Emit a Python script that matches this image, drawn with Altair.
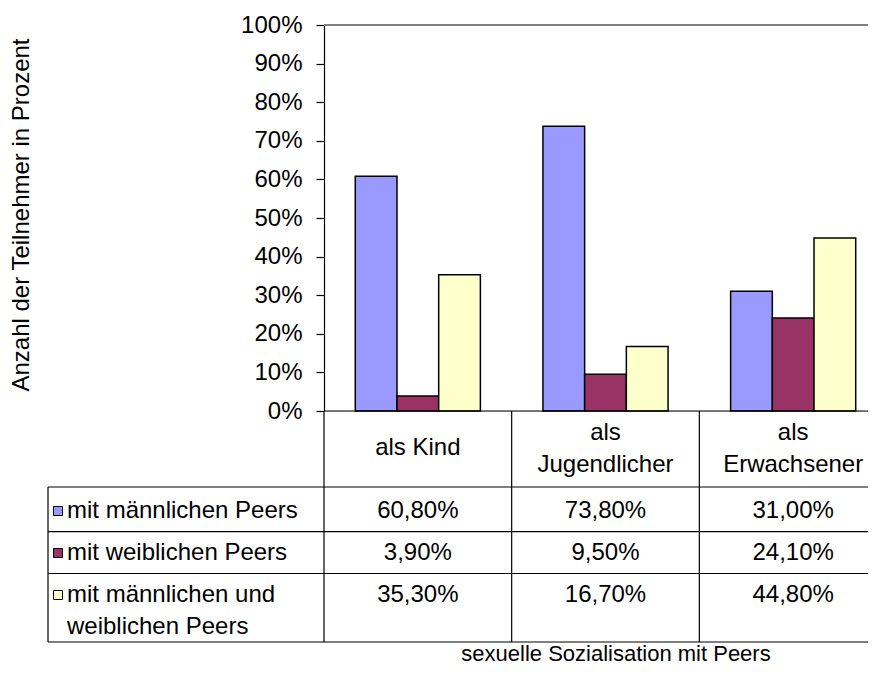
import altair as alt
import pandas as pd

# ---- data ----
categories = ["als Kind", "als Jugendlicher", "als Erwachsener"]
category_labels = ["als Kind", "als\nJugendlicher", "als\nErwachsener"]
series = ["mit männlichen Peers", "mit weiblichen Peers", "mit männlichen und weiblichen Peers"]
series_labels = ["mit männlichen Peers", "mit weiblichen Peers", "mit männlichen und\nweiblichen Peers"]
colors = ["#9999FF", "#993366", "#FFFFCC"]
values_male = [60.8, 73.8, 31.0]
values_female = [3.9, 9.5, 24.1]
values_both = [35.3, 16.7, 44.8]
y_ticks = [0, 10, 20, 30, 40, 50, 60, 70, 80, 90, 100]
y_title = "Anzahl der Teilnehmer in Prozent"
x_title = "sexuelle Sozialisation mit Peers"

rows = []
for s, vals in zip(series, [values_male, values_female, values_both]):
    for c, v in zip(categories, vals):
        rows.append({"cat": c, "series": s, "value": v,
                     "label": f"{v:.2f}".replace(".", ",") + "%"})
df = pd.DataFrame(rows)
cat_df = pd.DataFrame({"cat": categories, "clabel": category_labels})
cat_df["multi"] = cat_df["clabel"].str.contains("\n")
ser_df = pd.DataFrame({"series": series, "slabel": series_labels})
one = pd.DataFrame({"a": [0]})

FONT = "Liberation Sans"
FS = 24
W, H = 544, 386
BAND_RANGE = 563

xscale = alt.Scale(type="band", domain=categories, range=[0, BAND_RANGE],
                   paddingInner=0, paddingOuter=0)
cscale = alt.Scale(domain=series, range=colors)
yscale = alt.Scale(domain=[0, 100], nice=False)

bars = alt.Chart(df).mark_bar(stroke="black", strokeWidth=1.5).encode(
    x=alt.X("cat:N", scale=xscale, axis=None, sort=categories),
    xOffset=alt.XOffset("series:N", scale=alt.Scale(domain=series, paddingInner=0, paddingOuter=0.75), sort=series),
    y=alt.Y("value:Q", scale=yscale,
            axis=alt.Axis(values=y_ticks, labelExpr="datum.value + '%'", title=None, grid=False,
                          domainColor="black", domainWidth=1.2, tickColor="black", tickSize=8,
                          tickWidth=1.2, labelFont=FONT, labelFontSize=FS, labelColor="black",
                          labelPadding=14, labelFlush=False)),
    color=alt.Color("series:N", scale=cscale, legend=None),
)

def hrule(y, x1, x2, color="black", width=1.2):
    return alt.Chart(one).mark_rule(color=color, strokeWidth=width).encode(
        x=alt.value(x1), x2=alt.value(x2), y=alt.value(y))

def vrule(x, y1, y2, color="black", width=1.2):
    return alt.Chart(one).mark_rule(color=color, strokeWidth=width).encode(
        x=alt.value(x), y=alt.value(y1), y2=alt.value(y2))

TBL_LEFT = -276
ROW_LINES = [462, 506.7, 548.5, 617]
ROW_TEXT = [486, 528, 570]

top_border = hrule(0, 0, W, color="#808080", width=2)
x_axis_line = hrule(H, 0, W)
table_h = [hrule(y, TBL_LEFT, W) for y in ROW_LINES]
table_left = vrule(TBL_LEFT, ROW_LINES[0], ROW_LINES[-1])

cat_lines = alt.Chart(cat_df).mark_rule(color="black", strokeWidth=1.2).encode(
    x=alt.X("cat:N", scale=xscale, axis=None, bandPosition=0),
    y=alt.value(H), y2=alt.value(ROW_LINES[-1]))

cat_text_single = alt.Chart(cat_df).transform_filter("!datum.multi").mark_text(
    font=FONT, fontSize=FS, color="black", align="center", baseline="middle").encode(
    x=alt.X("cat:N", scale=xscale, axis=None), y=alt.value(423), text="clabel:N")
cat_text_multi = alt.Chart(cat_df).transform_filter("datum.multi").mark_text(
    font=FONT, fontSize=FS, color="black", lineBreak="\n", lineHeight=32,
    align="center", baseline="middle").encode(
    x=alt.X("cat:N", scale=xscale, axis=None), y=alt.value(408), text="clabel:N")

val_layers = []
for s, yv in zip(series, ROW_TEXT):
    val_layers.append(
        alt.Chart(df).transform_filter(alt.datum.series == s).mark_text(
            font=FONT, fontSize=FS, color="black", align="center", baseline="middle").encode(
            x=alt.X("cat:N", scale=xscale, axis=None), y=alt.value(yv), text="label:N"))

leg_layers = []
for s, yv in zip(series, ROW_TEXT):
    leg_layers.append(
        alt.Chart(ser_df).transform_filter(alt.datum.series == s).mark_square(
            size=81, filled=True, stroke="black", strokeWidth=1, opacity=1).encode(
            x=alt.value(-266), y=alt.value(yv),
            color=alt.Color("series:N", scale=cscale, legend=None)))
    leg_layers.append(
        alt.Chart(ser_df).transform_filter(alt.datum.series == s).mark_text(
            font=FONT, fontSize=FS, color="black", align="left", baseline="middle",
            lineBreak="\n", lineHeight=32).encode(
            x=alt.value(-257), y=alt.value(yv), text="slabel:N"))

ytitle = alt.Chart(one).mark_text(font=FONT, fontSize=FS, color="black", angle=270,
                                  align="center", baseline="middle").encode(
    x=alt.value(-302), y=alt.value(190), text=alt.value(y_title))
xtitle = alt.Chart(one).mark_text(font=FONT, fontSize=22, color="black",
                                  align="center", baseline="alphabetic").encode(
    x=alt.value(292), y=alt.value(636), text=alt.value(x_title))

chart = alt.layer(
    bars, top_border, x_axis_line, *table_h, table_left, cat_lines,
    cat_text_single, cat_text_multi, *val_layers, *leg_layers, ytitle, xtitle
).properties(
    width=W, height=H,
    autosize=alt.AutoSizeParams(type="none"),
    padding={"left": 316, "top": 17, "right": 0, "bottom": 257},
).configure_view(stroke=None).configure(background="white")

chart.save("out.html", embed_options={"renderer": "svg", "actions": False})
